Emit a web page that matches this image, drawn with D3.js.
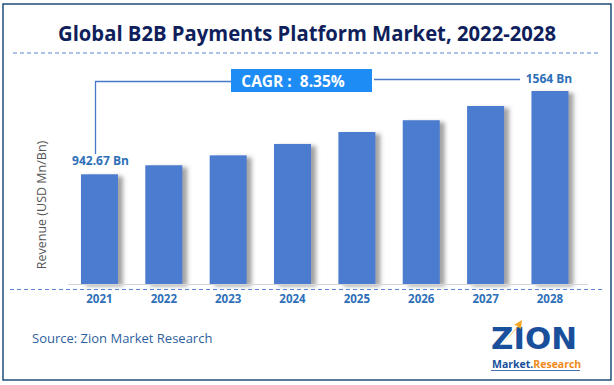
<!DOCTYPE html>
<html>
<head>
<meta charset="utf-8">
<script src="https://cdn.jsdelivr.net/npm/d3@7"></script>
<style>
  html, body { margin: 0; padding: 0; background: #fff; }
  svg { display: block; font-family: "Open Sans", "Noto Sans", sans-serif; }
</style>
</head>
<body>
<svg id="chart" width="614" height="385"></svg>
<script>
// data
const years = ['2021', '2022', '2023', '2024', '2025', '2026', '2027', '2028'];
const revenue = [942.67, 1010, 1084, 1169, 1258, 1346, 1452, 1564];
const firstLabel = '942.67 Bn';
const lastLabel = '1564 Bn';
const cagrText = 'CAGR :  8.35%';

const W = 614, H = 385;
const svg = d3.select('#chart');

// soft shadow to the right of each bar
const defs = svg.append('defs');
const f = defs.append('filter').attr('id', 'shadow')
  .attr('x', '-20%').attr('y', '-10%').attr('width', '160%').attr('height', '130%');
f.append('feDropShadow').attr('dx', 5).attr('dy', 2).attr('stdDeviation', 2.2)
  .attr('flood-color', '#555').attr('flood-opacity', 0.55);

// frame
svg.append('rect').attr('x', 3).attr('y', 4).attr('width', 608).attr('height', 376)
  .attr('fill', 'none').attr('stroke', '#1f4e79').attr('stroke-width', 1.5);

// title
svg.append('text').attr('x', 307).attr('y', 41).attr('text-anchor', 'middle')
  .style('font-family', '"Open Sans", sans-serif').style('font-size', '20.5px').style('font-weight', '700')
  .style('fill', '#0f1f5c').attr('textLength', 498).attr('lengthAdjust', 'spacingAndGlyphs')
  .text('Global B2B Payments Platform Market, 2022-2028');
svg.append('line').attr('x1', 13).attr('x2', 599).attr('y1', 53).attr('y2', 53)
  .attr('stroke', '#5b86d6').attr('stroke-dasharray', '4,3').attr('stroke-width', 1);

// scales
const x = d3.scaleBand().domain(years).range([53.6, 595.8]).padding(0.425);
const y = d3.scaleLinear().domain([124.4, 1564]).range([284, 91]);

// bars
svg.append('g').selectAll('rect').data(years).enter().append('rect')
  .attr('x', d => x(d)).attr('width', x.bandwidth())
  .attr('y', (d, i) => y(revenue[i])).attr('height', (d, i) => y.range()[0] - y(revenue[i]))
  .attr('fill', '#4c7bd0').attr('filter', 'url(#shadow)');

// baseline + dashed axis line
svg.append('line').attr('x1', 68).attr('x2', 588).attr('y1', 284.5).attr('y2', 284.5)
  .attr('stroke', '#d6d6d6').attr('stroke-width', 1);
svg.append('line').attr('x1', 10).attr('x2', 604).attr('y1', 289.5).attr('y2', 289.5)
  .attr('stroke', '#5b86d6').attr('stroke-dasharray', '4,3').attr('stroke-width', 1);

// year labels
const xAxis = svg.append('g').attr('transform', 'translate(0,289)')
  .call(d3.axisBottom(x).tickSize(0).tickPadding(6));
xAxis.select('.domain').remove();
xAxis.selectAll('text').style('font-family', '"Open Sans", sans-serif').style('font-size', '11.5px')
  .style('font-weight', '700').style('fill', '#2e6fb8');

// y label
svg.append('text').attr('transform', 'translate(46,205) rotate(-90)').attr('text-anchor', 'middle')
  .style('font-size', '12.5px').style('fill', '#555').text('Revenue (USD Mn/Bn)');

// value labels
const cx0 = x(years[0]) + x.bandwidth() / 2;
const cx1 = x(years[years.length - 1]) + x.bandwidth() / 2;
svg.append('text').attr('x', cx0 + 1).attr('y', y(revenue[0]) - 9).attr('text-anchor', 'middle')
  .style('font-size', '12px').style('font-weight', '700').style('fill', '#2e6fb8').text(firstLabel);
svg.append('text').attr('x', cx1 - 1).attr('y', 83).attr('text-anchor', 'middle')
  .style('font-size', '12px').style('font-weight', '700').style('fill', '#2e6fb8').text(lastLabel);

// CAGR leader lines + box
svg.append('path').attr('d', 'M95.5,154 V81.5 H231').attr('fill', 'none')
  .attr('stroke', '#4a78c8').attr('stroke-width', 1.3);
svg.append('line').attr('x1', 374).attr('x2', 520).attr('y1', 79.5).attr('y2', 79.5)
  .attr('stroke', '#4a78c8').attr('stroke-width', 1.3);
svg.append('rect').attr('x', 231).attr('y', 69).attr('width', 141).attr('height', 23).attr('fill', '#1e8cf5');
svg.append('text').attr('x', 293).attr('y', 86.5).attr('text-anchor', 'middle')
  .style('font-size', '15.5px').style('font-weight', '700').style('fill', '#fff')
  .attr('xml:space', 'preserve').text(cagrText);

// source
svg.append('text').attr('x', 32).attr('y', 343)
  .style('font-size', '13px').style('fill', '#2e5f9e').text('Source: Zion Market Research');

// logo (text approximation)
const logo = svg.append('g');
logo.append('text').attr('x', 534).attr('y', 349).attr('text-anchor', 'middle')
  .style('font-family', '"DejaVu Sans", sans-serif').style('font-size', '30px').style('font-weight', '700')
  .style('fill', '#1a4f9c').attr('textLength', 86).attr('lengthAdjust', 'spacingAndGlyphs').text('ZION');
logo.append('path').attr('d', 'M497,350 L518,326 L514,325 L522,320 L521,329 L518,327 Z').attr('fill', '#f5a623');
const lt = logo.append('text').attr('x', 492).attr('y', 368)
  .style('font-size', '10.5px').style('font-weight', '700');
lt.append('tspan').style('fill', '#1a4f9c').text('Market.');
lt.append('tspan').style('fill', '#f08a1c').text('Research');
logo.append('line').attr('x1', 491).attr('x2', 580).attr('y1', 370.5).attr('y2', 370.5)
  .attr('stroke', '#1a4f9c').attr('stroke-width', 0.8);
</script>
</body>
</html>
